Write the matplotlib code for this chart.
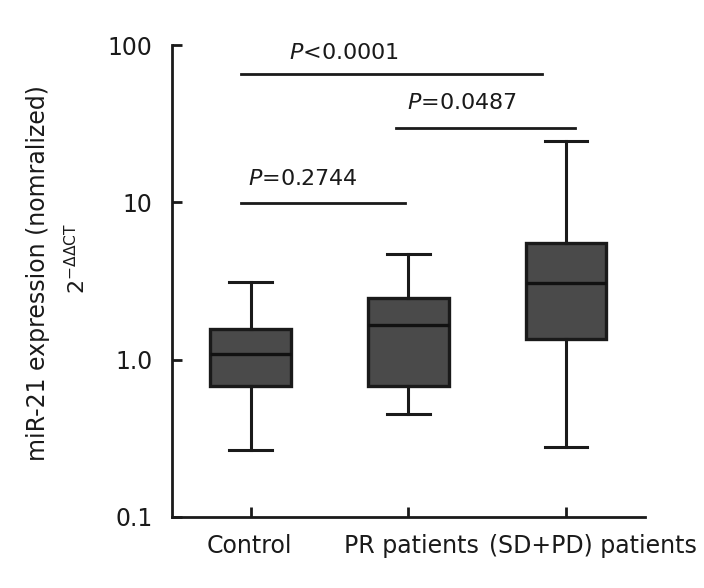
import matplotlib.pyplot as plt
import matplotlib.transforms as mtransforms

# box statistics (log scale)
groups = ['Control', 'PR patients', '(SD+PD) patients']
whislo = [0.267, 0.45, 0.279]
q1 = [0.68, 0.68, 1.36]
med = [1.09, 1.65, 3.09]
q3 = [1.57, 2.45, 5.56]
whishi = [3.14, 4.73, 24.5]

# significance bars
sig_x0 = [0.94, 1.92, 0.94]
sig_x1 = [1.98, 3.06, 2.85]
sig_h = [9.9, 29.6, 66.0]
sig_lab = ['=0.2744', '=0.0487', '<0.0001']
sig_tx = [1.33, 2.34, 1.59]
sig_ty = [14.2, 42.7, 89.0]

plt.rcParams['font.family'] = 'DejaVu Sans'
plt.rcParams['mathtext.fontset'] = 'dejavusans'

fig = plt.figure(figsize=(7.04, 5.88), dpi=100)
ax = fig.add_axes([0.244, 0.121, 0.672, 0.802])

stats = []
for i in range(3):
    stats.append(dict(whislo=whislo[i], q1=q1[i], med=med[i], q3=q3[i], whishi=whishi[i], fliers=[]))

ax.bxp(stats, positions=[1, 2, 3], widths=0.51, capwidths=0.27, patch_artist=True,
       boxprops=dict(facecolor='#4a4a4a', edgecolor='#1a1a1a', linewidth=2.4),
       medianprops=dict(color='#111111', linewidth=2.4),
       whiskerprops=dict(color='#1a1a1a', linewidth=2.2),
       capprops=dict(color='#1a1a1a', linewidth=2.2),
       showfliers=False)

ax.set_yscale('log')
ax.set_ylim(0.1, 100)
ax.set_xlim(0.5, 3.5)
ax.set_yticks([0.1, 1, 10, 100])
ax.set_yticklabels(['0.1', '1.0', '10', '100'])
ax.yaxis.set_minor_locator(plt.NullLocator())
ax.set_xticks([1, 2, 3])
ax.set_xticklabels(groups)

ax.spines['top'].set_visible(False)
ax.spines['right'].set_visible(False)
for s in ['left', 'bottom']:
    ax.spines[s].set_linewidth(2)
    ax.spines[s].set_color('#1a1a1a')
ax.tick_params(direction='in', length=7, width=2, labelsize=17, colors='#1a1a1a')
ax.tick_params(axis='x', pad=12)
ax.tick_params(axis='y', pad=14)

# nudge the x labels like in the original
shifts = [-1, 3, 27]
for lab, dx in zip(ax.get_xticklabels(), shifts):
    lab.set_transform(lab.get_transform() + mtransforms.ScaledTranslation(dx / 100, 0, fig.dpi_scale_trans))

for i in range(3):
    ax.plot([sig_x0[i], sig_x1[i]], [sig_h[i], sig_h[i]], color='#1a1a1a', linewidth=2, clip_on=False)
    ax.text(sig_tx[i], sig_ty[i], r'$\mathit{P}$' + sig_lab[i], ha='center', va='center',
            fontsize=16, color='#1a1a1a')

fig.text(0.054, 0.535, 'miR-21 expression (nomralized)', rotation=90, ha='center', va='center',
         fontsize=17, color='#1a1a1a')
fig.text(0.109, 0.56, r'2$^{-\Delta\Delta\mathrm{CT}}$', rotation=90, ha='center', va='center',
         fontsize=16, color='#1a1a1a')

fig.savefig('out.png', dpi=100)
